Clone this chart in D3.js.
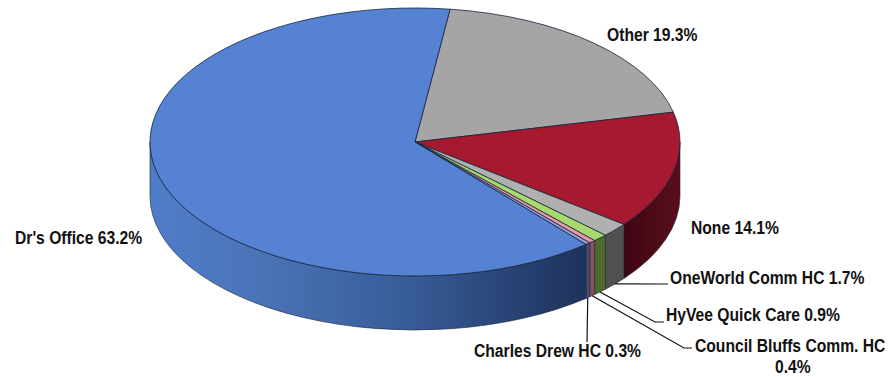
<!DOCTYPE html>
<html><head><meta charset="utf-8">
<script src="https://cdnjs.cloudflare.com/ajax/libs/d3/7.8.5/d3.min.js"></script>
<style>html,body{margin:0;padding:0;background:#fff}svg{display:block}
text{font-family:"Liberation Sans",Arial,sans-serif;font-weight:bold;fill:#111;font-size:18px}</style>
</head><body><script>
const categories=["Other","None","OneWorld Comm HC","HyVee Quick Care","Council Bluffs Comm. HC","Charles Drew HC","Dr's Office"];
const shares=[19.3,14.1,1.7,0.9,0.4,0.3,63.2];
const topColors=["#a5a5a5","#a6192e","#b0b0b0","#a8d96c","#e59aa6","#9a9fd2","#5682d4"];
const wallColors=["#555","#4d0a17","#505050","#4e6a2c","#85525a","#4b4a72","#2a4578"];
const W=890,H=377,cx=415,cy=142,rx=265,ry=134,depth=54;
const svg=d3.select("body").append("svg").attr("width",W).attr("height",H);
const defs=svg.append("defs");
const xs=d3.scaleLinear().domain([-1,1]).range([cx-rx,cx+rx]);
const ys=d3.scaleLinear().domain([-1,1]).range([cy-ry,cy+ry]);
const start=7.6*Math.PI/180;
const arcs=d3.pie().sort(null).value(d=>d.v).startAngle(start).endAngle(start+2*Math.PI)(categories.map((c,i)=>({c,v:shares[i],i})));
const px=a=>xs(Math.sin(a)),py=a=>ys(-Math.cos(a));
const g1=defs.append("linearGradient").attr("id","blueWall").attr("gradientUnits","userSpaceOnUse").attr("x1",cx-rx).attr("x2",590).attr("y1",0).attr("y2",0);
[[0,"#4f7dc8"],[.25,"#4a74b8"],[.6,"#375b96"],[1,"#1d3059"]].forEach(s=>g1.append("stop").attr("offset",s[0]).attr("stop-color",s[1]));
const g2=defs.append("linearGradient").attr("id","redWall").attr("gradientUnits","userSpaceOnUse").attr("x1",620).attr("x2",680).attr("y1",0).attr("y2",0);
[[0,"#3c0611"],[1,"#5a0d1c"]].forEach(s=>g2.append("stop").attr("offset",s[0]).attr("stop-color",s[1]));
const wallFill=d=>d.data.i===6?"url(#blueWall)":d.data.i===1?"url(#redWall)":wallColors[d.data.i];
const lo=Math.PI/2,hi=Math.PI*1.5;
arcs.forEach(d=>{
  const a0=Math.max(d.startAngle,lo),a1=Math.min(d.endAngle,hi);
  if(a1<=a0)return;
  const p=`M${px(a0)},${py(a0)}A${rx},${ry} 0 0 1 ${px(a1)},${py(a1)}L${px(a1)},${py(a1)+depth}A${rx},${ry} 0 0 0 ${px(a0)},${py(a0)+depth}Z`;
  svg.append("path").attr("d",p).attr("fill",wallFill(d)).attr("stroke","#14233c").attr("stroke-opacity",.75).attr("stroke-width",.8);
});
arcs.forEach(d=>{
  const large=d.endAngle-d.startAngle>Math.PI?1:0;
  const p=`M${cx},${cy}L${px(d.startAngle)},${py(d.startAngle)}A${rx},${ry} 0 ${large} 1 ${px(d.endAngle)},${py(d.endAngle)}Z`;
  svg.append("path").attr("d",p).attr("fill",topColors[d.data.i]).attr("stroke","#14233c").attr("stroke-width",.8).attr("stroke-linejoin","round");
});
const labelLines=[["Other 19.3%"],["None 14.1%"],["OneWorld Comm HC 1.7%"],["HyVee Quick Care 0.9%"],["Council Bluffs Comm. HC","0.4%"],["Charles Drew HC 0.3%"],["Dr's Office 63.2%"]];
const labelPos=[[607,41],[691,234],[670,284],[666,321],[695,352],[474,357],[15,244]];
const elbows=[null,null,[[668,284]],[[655,322],[664,322]],[[684,348],[692,348]],[[587,342]],null];
arcs.forEach(d=>{
  const i=d.data.i,e=elbows[i];
  if(e){
    const m=(d.startAngle+d.endAngle)/2;
    const pts=[[px(m),py(m)+depth],...e];
    svg.append("path").attr("d",d3.line()(pts)).attr("fill","none").attr("stroke","#111").attr("stroke-width",1.2);
  }
  const t=svg.append("text").attr("transform",`translate(${labelPos[i][0]},${labelPos[i][1]}) scale(0.87,1)`);
  t.append("tspan").attr("x",0).attr("y",0).text(labelLines[i][0]);
  if(labelLines[i][1]) t.append("tspan").attr("x",92).attr("y",21).text(labelLines[i][1]);
});
</script></body></html>
